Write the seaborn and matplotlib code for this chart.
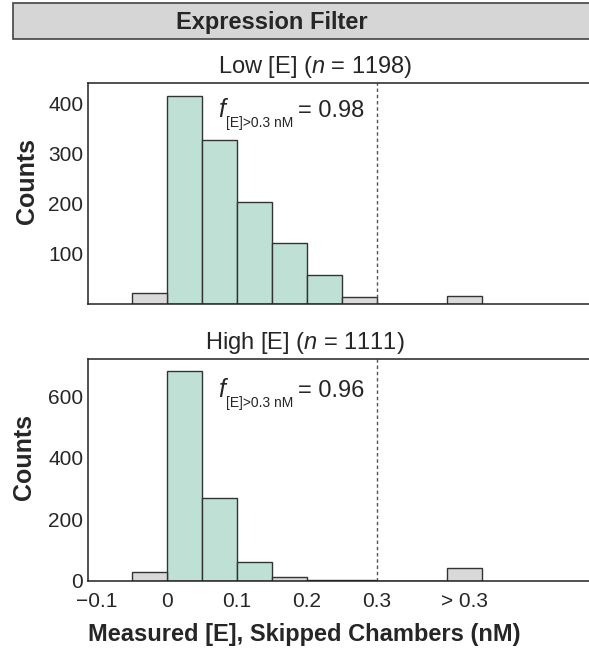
import numpy as np
import pandas as pd
import matplotlib
matplotlib.use("Agg")
import matplotlib.pyplot as plt
from matplotlib.patches import Rectangle
import seaborn as sns

# histogram data (bin width 0.05 nM)
bin_left = [-0.05, 0.0, 0.05, 0.10, 0.15, 0.20, 0.25, 0.40]   # last bin is the "> 0.3" overflow
low_counts = [21, 415, 326, 204, 121, 58, 13, 16]
high_counts = [30, 682, 268, 61, 14, 3, 2, 41]
low_pass = [False, True, True, True, True, True, False, False]
high_pass = [False, True, True, True, False, False, False, False]

tick_pos = [-0.1, 0.0, 0.1, 0.2, 0.3, 0.425]
tick_labels = ["\u22120.1", "0", "0.1", "0.2", "0.3", "> 0.3"]
low_yticks = [100, 200, 300, 400]
high_yticks = [0, 200, 400, 600]

BIN_W = 0.05
GREEN = "#bfe0d4"
GRAY = "#d9d9d9"
EDGE = "#333333"

sns.set_style("white")
plt.rcParams["font.family"] = ["Liberation Sans", "DejaVu Sans"]
plt.rcParams["mathtext.fontset"] = "custom"
plt.rcParams["mathtext.rm"] = "Liberation Sans"
plt.rcParams["mathtext.it"] = "Liberation Sans:italic"

W, H = 589, 655
fig = plt.figure(figsize=(W / 100, H / 100), dpi=100)


def fx(px):
    return px / W


def fy(py):
    return 1 - py / H


# title bar
fig.patches.append(Rectangle((fx(13), fy(39)), 1.0, (39 - 3) / H, transform=fig.transFigure,
                             facecolor="#d6d6d6", edgecolor="#444444", lw=1.2))
fig.text(fx(272), fy(22), "Expression Filter", ha="center", va="center",
         fontsize=17, fontweight="bold")

xlim = (-0.113, -0.113 + (W - 88) / 700)


def draw_panel(ax, counts, passed, ylim, yticks, title, title_px, frac, text_y):
    df = pd.DataFrame({"x": [b + BIN_W / 2 for b in bin_left], "n": counts, "ok": passed})
    for ok, col in [(True, GREEN), (False, GRAY)]:
        sub = df[df["ok"] == ok]
        sns.histplot(data=sub, x="x", weights="n", binwidth=BIN_W, binrange=(-0.05, 0.45),
                     ax=ax, color=col, alpha=1, edgecolor=EDGE, linewidth=1.0)
    ax.axvline(0.3, color="#555555", lw=1.0, ls=(0, (2.5, 2)))
    ax.set_xlim(*xlim)
    ax.set_ylim(*ylim)
    ax.set_yticks(yticks)
    ax.set_xticks(tick_pos)
    ax.tick_params(direction="in", length=6, width=1, labelsize=15, color="#222222")
    ax.set_xlabel("")
    ax.set_ylabel("Counts", fontsize=18, fontweight="bold")
    ax.spines["right"].set_visible(False)
    for s in ["top", "left", "bottom"]:
        ax.spines[s].set_color("#222222")
        ax.spines[s].set_linewidth(1.1)
    ax.text(title_px, 1.012, title, transform=ax.transAxes,
            ha="center", va="bottom", fontsize=17)
    ax.text(0.072, text_y, "$f$", transform=ax.get_xaxis_transform(), fontsize=18, va="baseline")
    ax.text(0.084, text_y - 0.045, "[E]>0.3 nM", transform=ax.get_xaxis_transform(),
            fontsize=10, va="baseline")
    ax.text(0.187, text_y, "= " + frac, transform=ax.get_xaxis_transform(), fontsize=17,
            va="baseline")


ax1 = fig.add_axes([fx(88), fy(304), 1 - fx(88), (304 - 83) / H])
draw_panel(ax1, low_counts, low_pass, (0, 440), low_yticks,
           "Low [E] ($\\it{n}$ = 1198)", (315 - 88) / (W - 88), "0.98", 0.845)
ax1.tick_params(labelbottom=False)
ax1.yaxis.set_label_coords(-0.098, 0.557)

ax2 = fig.add_axes([fx(88), fy(581), 1 - fx(88), (581 - 359) / H])
draw_panel(ax2, high_counts, high_pass, (0, 720), high_yticks,
           "High [E] ($\\it{n}$ = 1111)", (305 - 88) / (W - 88), "0.96", 0.83)
ax2.set_xticklabels(tick_labels)
ax2.tick_params(axis="x", pad=8)
ax2.yaxis.set_label_coords(-0.104, 0.559)

fig.text(fx(304), fy(635), "Measured [E], Skipped Chambers (nM)", ha="center", va="center",
         fontsize=17, fontweight="bold")

fig.savefig("out.png", dpi=100)
